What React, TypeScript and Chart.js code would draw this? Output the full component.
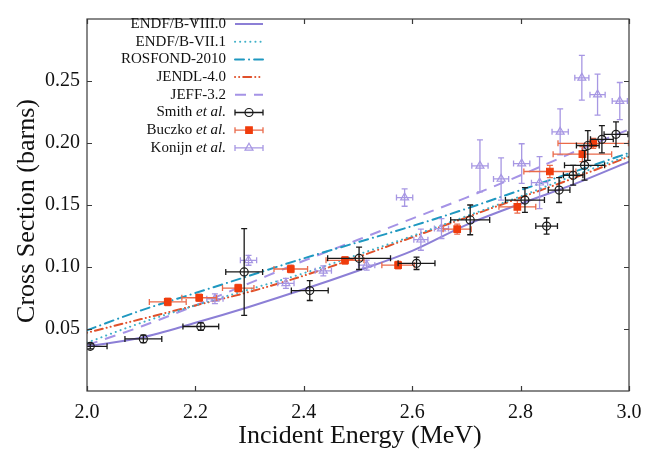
import React, { useEffect, useRef } from "react";
import { Chart, registerables } from "chart.js";

Chart.register(...registerables);

// ---------- data ----------
const energies = [2.0, 2.1, 2.2, 2.3, 2.4, 2.5, 2.6, 2.7, 2.8, 2.9, 3.0];
const endfb80 = [0.036, 0.043, 0.055, 0.068, 0.082, 0.097, 0.113, 0.134, 0.151, 0.167, 0.185];
const endfb71 = [0.039, 0.055, 0.069, 0.082, 0.095, 0.110, 0.125, 0.141, 0.157, 0.174, 0.190];
const rosfond = [0.049, 0.065, 0.079, 0.093, 0.107, 0.120, 0.133, 0.147, 0.162, 0.177, 0.192];
const jendl = [0.047, 0.058, 0.069, 0.080, 0.093, 0.108, 0.124, 0.140, 0.156, 0.172, 0.189];
const jeff = [0.037, 0.052, 0.069, 0.087, 0.105, 0.122, 0.139, 0.156, 0.174, 0.193, 0.211];

const smithE = [2.006, 2.104, 2.210, 2.290, 2.411, 2.502, 2.608, 2.707, 2.808, 2.848, 2.871, 2.897, 2.918, 2.924, 2.950, 2.976];
const smithSigma = [0.036, 0.042, 0.052, 0.096, 0.081, 0.107, 0.103, 0.138, 0.154, 0.133, 0.162, 0.174, 0.182, 0.198, 0.203, 0.207];
const smithEErr = [0.031, 0.034, 0.033, 0.034, 0.034, 0.058, 0.034, 0.036, 0.036, 0.020, 0.020, 0.018, 0.037, 0.021, 0.021, 0.022];
const smithSigmaErr = [0.002, 0.003, 0.003, 0.035, 0.008, 0.009, 0.005, 0.012, 0.010, 0.0065, 0.010, 0.008, 0.012, 0.012, 0.011, 0.010];

const buczkoE = [2.149, 2.207, 2.279, 2.376, 2.476, 2.574, 2.683, 2.794, 2.854, 2.914, 2.934];
const buczkoSigma = [0.0718, 0.0752, 0.083, 0.0984, 0.1054, 0.1015, 0.1305, 0.1485, 0.177, 0.191, 0.1997];
const buczkoEErr = [0.034, 0.032, 0.029, 0.031, 0.035, 0.030, 0.026, 0.034, 0.048, 0.054, 0.065];
const buczkoSigmaErr = [0.003, 0.003, 0.003, 0.003, 0.003, 0.003, 0.004, 0.005, 0.005, 0.006, 0.004];

const konijnE = [2.236, 2.298, 2.367, 2.436, 2.516, 2.586, 2.616, 2.654, 2.725, 2.764, 2.802, 2.835, 2.873, 2.913, 2.942, 2.983];
const konijnSigma = [0.0744, 0.1054, 0.0868, 0.0969, 0.1015, 0.156, 0.122, 0.131, 0.1816, 0.171, 0.1834, 0.168, 0.209, 0.2526, 0.239, 0.2338];
const konijnEErr = [0.015, 0.015, 0.015, 0.015, 0.015, 0.015, 0.013, 0.013, 0.015, 0.014, 0.015, 0.015, 0.015, 0.013, 0.014, 0.014];
const konijnSigmaErr = [0.004, 0.004, 0.004, 0.004, 0.004, 0.007, 0.0085, 0.008, 0.021, 0.017, 0.016, 0.021, 0.0185, 0.018, 0.0165, 0.015];

const xTicks = [2.0, 2.2, 2.4, 2.6, 2.8, 3.0];
const yTicks = [0.05, 0.1, 0.15, 0.2, 0.25];

const SERIF = '"Liberation Serif", "DejaVu Serif", serif';

const toXY = (xs: number[], ys: number[]) => xs.map((x, i) => ({ x, y: ys[i] }));

// ---------- plugins ----------
const errorBarPlugin = {
  id: "errorBars",
  beforeDatasetDraw(chart: any, args: any) {
    const ds = chart.data.datasets[args.index];
    if (!ds.errX) return;
    const { ctx, chartArea } = chart;
    const xs = chart.scales.x;
    const ys = chart.scales.y;
    const cap = 3;
    ctx.save();
    ctx.beginPath();
    ctx.rect(chartArea.left, chartArea.top, chartArea.right - chartArea.left, chartArea.bottom - chartArea.top);
    ctx.clip();
    ctx.strokeStyle = ds.errColor;
    ctx.lineWidth = 1.3;
    ds.data.forEach((p: any, i: number) => {
      const px = xs.getPixelForValue(p.x);
      const py = ys.getPixelForValue(p.y);
      const x0 = xs.getPixelForValue(p.x - ds.errX[i]);
      const x1 = xs.getPixelForValue(p.x + ds.errX[i]);
      const y0 = ys.getPixelForValue(p.y - ds.errY[i]);
      const y1 = ys.getPixelForValue(p.y + ds.errY[i]);
      ctx.beginPath();
      ctx.moveTo(x0, py);
      ctx.lineTo(x1, py);
      ctx.moveTo(x0, py - cap);
      ctx.lineTo(x0, py + cap);
      ctx.moveTo(x1, py - cap);
      ctx.lineTo(x1, py + cap);
      ctx.moveTo(px, y0);
      ctx.lineTo(px, y1);
      ctx.moveTo(px - cap, y0);
      ctx.lineTo(px + cap, y0);
      ctx.moveTo(px - cap, y1);
      ctx.lineTo(px + cap, y1);
      ctx.stroke();
    });
    ctx.restore();
  },
};

const framePlugin = {
  id: "frameAndLegend",
  afterDraw(chart: any) {
    const { ctx, chartArea } = chart;
    const { left, right, top, bottom } = chartArea;
    const xs = chart.scales.x;
    const ys = chart.scales.y;
    ctx.save();
    // frame
    ctx.strokeStyle = "#3a3a3a";
    ctx.lineWidth = 1.2;
    ctx.strokeRect(left, top, right - left, bottom - top);
    // inward ticks
    ctx.beginPath();
    const tl = 5;
    xTicks.forEach((v) => {
      const px = Math.round(xs.getPixelForValue(v)) + 0.5;
      ctx.moveTo(px, bottom);
      ctx.lineTo(px, bottom - tl);
      ctx.moveTo(px, top);
      ctx.lineTo(px, top + tl);
    });
    yTicks.forEach((v) => {
      const py = Math.round(ys.getPixelForValue(v)) + 0.5;
      ctx.moveTo(left, py);
      ctx.lineTo(left + tl, py);
      ctx.moveTo(right, py);
      ctx.lineTo(right - tl, py);
    });
    ctx.stroke();

    // axis titles
    ctx.fillStyle = "#111";
    ctx.font = `26px ${SERIF}`;
    ctx.textAlign = "center";
    ctx.textBaseline = "middle";
    ctx.fillText("Incident Energy (MeV)", (left + right) / 2 + 2, 436);
    ctx.save();
    ctx.translate(27, 211);
    ctx.rotate(-Math.PI / 2);
    ctx.fillText("Cross Section (barns)", 0, 0);
    ctx.restore();

    // legend
    const order = [3, 4, 5, 6, 7, 0, 1, 2];
    const labelRight = 226;
    const sx0 = 235;
    const sx1 = 263;
    const rowY0 = 24;
    const rowStep = 17.7;
    ctx.textBaseline = "middle";
    order.forEach((di, r) => {
      const ds = chart.data.datasets[di];
      const y = rowY0 + r * rowStep;
      // label
      ctx.fillStyle = "#111";
      ctx.textAlign = "left";
      const parts: [string, boolean][] = ds.italicPart
        ? [[ds.label.replace(ds.italicPart, ""), false], [ds.italicPart, true]]
        : [[ds.label, false]];
      let total = 0;
      parts.forEach(([t, it]) => {
        ctx.font = `${it ? "italic " : ""}15px ${SERIF}`;
        total += ctx.measureText(t).width;
      });
      let cx = labelRight - total;
      parts.forEach(([t, it]) => {
        ctx.font = `${it ? "italic " : ""}15px ${SERIF}`;
        ctx.fillText(t, cx, y);
        cx += ctx.measureText(t).width;
      });
      // sample
      if (ds.errX) {
        ctx.strokeStyle = ds.errColor;
        ctx.lineWidth = 1.3;
        ctx.setLineDash([]);
        ctx.beginPath();
        ctx.moveTo(sx0, y);
        ctx.lineTo(sx1, y);
        ctx.moveTo(sx0, y - 3);
        ctx.lineTo(sx0, y + 3);
        ctx.moveTo(sx1, y - 3);
        ctx.lineTo(sx1, y + 3);
        ctx.stroke();
        const mx = (sx0 + sx1) / 2;
        ctx.lineWidth = ds.pointBorderWidth;
        ctx.strokeStyle = ds.pointBorderColor;
        ctx.fillStyle = ds.pointBackgroundColor;
        ctx.beginPath();
        if (ds.pointStyle === "circle") {
          ctx.arc(mx, y, ds.pointRadius, 0, Math.PI * 2);
        } else if (ds.pointStyle === "rect") {
          const s = ds.pointRadius / Math.SQRT2;
          ctx.rect(mx - s, y - s, 2 * s, 2 * s);
        } else {
          const r = ds.pointRadius;
          ctx.moveTo(mx, y - r);
          ctx.lineTo(mx + r * 0.866, y + r * 0.5);
          ctx.lineTo(mx - r * 0.866, y + r * 0.5);
          ctx.closePath();
        }
        ctx.fill();
        ctx.stroke();
      } else {
        ctx.strokeStyle = ds.borderColor;
        ctx.lineWidth = ds.borderWidth;
        ctx.lineCap = ds.borderCapStyle || "butt";
        ctx.setLineDash(ds.borderDash || []);
        ctx.beginPath();
        ctx.moveTo(sx0, y);
        ctx.lineTo(sx1, y);
        ctx.stroke();
        ctx.setLineDash([]);
        ctx.lineCap = "butt";
      }
    });
    ctx.restore();
  },
};

export default function App() {
  const canvasRef = useRef<HTMLCanvasElement | null>(null);

  useEffect(() => {
    if (!canvasRef.current) return;
    const lineDs = (label: string, ys: number[], color: string, dash: number[], cap = "butt") => ({
      label,
      data: toXY(energies, ys),
      borderColor: color,
      backgroundColor: color,
      borderWidth: 2,
      borderDash: dash,
      borderCapStyle: cap,
      pointRadius: 0,
      cubicInterpolationMode: "monotone",
      fill: false,
      order: 5,
    });
    const pointDs = (
      label: string,
      italicPart: string,
      xs: number[],
      ys: number[],
      ex: number[],
      ey: number[],
      style: string,
      border: string,
      bg: string,
      errColor: string,
      radius: number,
      order: number
    ) => ({
      label,
      italicPart,
      data: toXY(xs, ys),
      errX: ex,
      errY: ey,
      errColor,
      showLine: false,
      pointStyle: style,
      pointRadius: radius,
      pointBorderWidth: 1.2,
      pointBorderColor: border,
      pointBackgroundColor: bg,
      borderColor: border,
      backgroundColor: bg,
      order,
    });

    const datasets: any[] = [
      pointDs("Smith et al.", "et al.", smithE, smithSigma, smithEErr, smithSigmaErr, "circle", "#1a1a1a", "rgba(255,255,255,0)", "#1a1a1a", 4, 0),
      pointDs("Buczko et al.", "et al.", buczkoE, buczkoSigma, buczkoEErr, buczkoSigmaErr, "rect", "#f03c0c", "#f03c0c", "#ea6a4a", 4.6, 1),
      pointDs("Konijn et al.", "et al.", konijnE, konijnSigma, konijnEErr, konijnSigmaErr, "triangle", "#a797e3", "rgba(255,255,255,0)", "#a797e3", 4.6, 2),
      lineDs("ENDF/B-VIII.0", endfb80, "#8c7fd6", []),
      lineDs("ENDF/B-VII.1", endfb71, "#3fb0c8", [0.1, 5], "round"),
      lineDs("ROSFOND-2010", rosfond, "#1f98c0", [9, 5, 0.1, 5], "butt"),
      lineDs("JENDL-4.0", jendl, "#e0502a", [0.1, 4, 0.1, 4, 8, 4]),
      lineDs("JEFF-3.2", jeff, "#a593e6", [11, 8]),
    ];
    // round caps on dotted patterns
    datasets[5].borderCapStyle = "round";
    datasets[6].borderCapStyle = "round";

    const chart = new Chart(canvasRef.current, {
      type: "line",
      data: { datasets },
      options: {
        animation: false,
        responsive: false,
        devicePixelRatio: 1,
        layout: { padding: { left: 0, top: 7, right: 25, bottom: 0 } },
        plugins: { legend: { display: false }, tooltip: { enabled: false } },
        scales: {
          x: {
            type: "linear",
            min: 2.0,
            max: 3.0,
            grid: { display: false, drawTicks: false },
            border: { display: false },
            afterBuildTicks: (s: any) => {
              s.ticks = xTicks.map((v) => ({ value: v }));
            },
            afterFit: (s: any) => {
              s.height = 63;
            },
            ticks: {
              padding: 10,
              maxRotation: 0,
              color: "#111",
              font: { family: SERIF, size: 20 },
              callback: (v: any) => Number(v).toFixed(1),
            },
          },
          y: {
            type: "linear",
            min: 0,
            max: 0.3,
            grid: { display: false, drawTicks: false },
            border: { display: false },
            afterBuildTicks: (s: any) => {
              s.ticks = yTicks.map((v) => ({ value: v }));
            },
            afterFit: (s: any) => {
              s.width = 87;
            },
            ticks: {
              padding: 7,
              color: "#111",
              font: { family: SERIF, size: 20 },
              callback: (v: any) => Number(v).toFixed(2),
            },
          },
        },
      } as any,
      plugins: [errorBarPlugin, framePlugin],
    });
    return () => chart.destroy();
  }, []);

  return (
    <div style={{ position: "fixed", left: 0, top: 0, width: 654, height: 454, background: "#fff" }}>
      <canvas ref={canvasRef} width={654} height={454} style={{ display: "block" }} />
    </div>
  );
}
